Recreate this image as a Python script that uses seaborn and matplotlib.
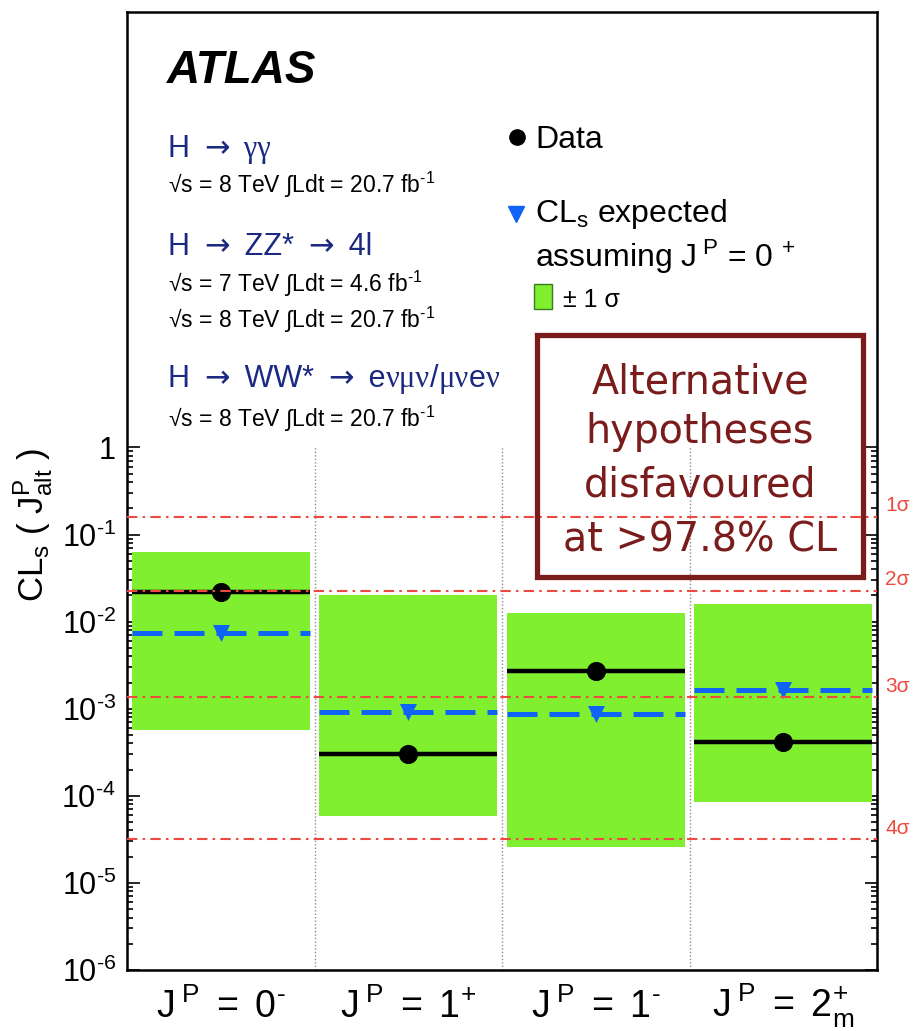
import numpy as np
import pandas as pd
import matplotlib
matplotlib.use("Agg")
import matplotlib.pyplot as plt
import matplotlib.transforms as mtransforms
from matplotlib.patches import Rectangle
import seaborn as sns

# ---- values -------------------------------------------------------------
hypotheses = ["0-", "1+", "1-", "2m+"]
tick_labels = [r"$\mathregular{J^{\;P}\ =\ 0^{\text{-}}}$",
               r"$\mathregular{J^{\;P}\ =\ 1^{+}}$",
               r"$\mathregular{J^{\;P}\ =\ 1^{\text{-}}}$",
               r"$\mathregular{J^{\;P}\ =\ 2^{+}_{m}}$"]
cls_observed = [2.2e-2, 3.0e-4, 2.7e-3, 4.2e-4]
cls_expected = [7.4e-3, 9.2e-4, 8.8e-4, 1.64e-3]
band_low = [5.7e-4, 5.9e-5, 2.6e-5, 8.6e-5]
band_high = [6.3e-2, 2.0e-2, 1.26e-2, 1.61e-2]
sigma_names = ["1σ", "2σ", "3σ", "4σ"]
sigma_pvalues = [0.1587, 0.02275, 0.00135, 3.167e-5]
ytick_values = [1e-6, 1e-5, 1e-4, 1e-3, 1e-2, 1e-1, 1.0]
ytick_labels = [r"$\mathregular{10^{\text{-}6}}$", r"$\mathregular{10^{\text{-}5}}$",
                r"$\mathregular{10^{\text{-}4}}$", r"$\mathregular{10^{\text{-}3}}$",
                r"$\mathregular{10^{\text{-}2}}$", r"$\mathregular{10^{\text{-}1}}$", "1"]

# ---- style --------------------------------------------------------------
sns.set_theme(style="ticks")
plt.rcParams["font.family"] = ["Liberation Sans", "DejaVu Sans"]
plt.rcParams["mathtext.fontset"] = "custom"
plt.rcParams["mathtext.rm"] = "Liberation Sans"
plt.rcParams["mathtext.it"] = "Liberation Sans:italic"
plt.rcParams["mathtext.bf"] = "Liberation Sans:bold"
for key in ["text.color", "axes.labelcolor", "xtick.color", "ytick.color",
            "axes.edgecolor"]:
    plt.rcParams[key] = "black"

GREEN = "#80ef30"
BLUE = "#0f64f5"
RED = "#ee4a40"
NAVY = "#1b2a80"
DARKRED = "#7a1c1c"

W, H = 919, 1031
fig = plt.figure(figsize=(W / 100, H / 100), dpi=100)
ax = fig.add_axes([127 / W, 1 - 970 / H, 750 / W, 958 / H])

df = pd.DataFrame({
    "pos": np.arange(len(hypotheses)) + 0.5,
    "hyp": hypotheses,
    "obs": cls_observed,
    "exp": cls_expected,
    "lo": band_low,
    "hi": band_high,
})

ax.set_yscale("log")
ax.set_xlim(0, 4)
ax.set_ylim(1e-6, 1e5)

half = 0.475
# +-1 sigma bands of the expected CLs
ax.bar(df["pos"], np.array(df["hi"]) - np.array(df["lo"]), bottom=df["lo"],
       width=2 * half, color=GREEN, edgecolor="none", zorder=1)

# expected (dashed blue) and observed (solid black) levels
for _, r in df.iterrows():
    ax.hlines(r["exp"], r["pos"] - half, r["pos"] + half, colors=BLUE,
              linewidth=3.6, linestyles=(0, (6.0, 2.4)), zorder=3)
    ax.hlines(r["obs"], r["pos"] - half, r["pos"] + half, colors="black",
              linewidth=3.2, zorder=3)
sns.scatterplot(data=df, x="pos", y="exp", marker="v", s=150, color=BLUE,
                edgecolor=BLUE, linewidth=0, zorder=4, ax=ax, legend=False)
sns.scatterplot(data=df, x="pos", y="obs", marker="o", s=190, color="black",
                edgecolor="black", linewidth=0, zorder=5, ax=ax, legend=False)

# separators between hypotheses
for xb in [1, 2, 3]:
    ax.vlines(xb, 1e-6, 1.0, colors="#8c8c8c", linewidth=1.0,
              linestyles=(0, (1, 1.5)), zorder=2)

# significance reference levels
trans_lab = mtransforms.blended_transform_factory(ax.transAxes, ax.transData)
for name, p in zip(sigma_names, sigma_pvalues):
    ax.axhline(p, color=RED, linewidth=1.5,
               linestyle=(0, (5, 2.5, 1.2, 2.5)), zorder=6)
    ax.annotate(name, xy=(1.0, p), xycoords=trans_lab, xytext=(6, 8),
                textcoords="offset points", color=RED, fontsize=15,
                ha="left", va="center", annotation_clip=False)

# axes decoration
for s in ax.spines.values():
    s.set_linewidth(1.8)
    s.set_color("black")
ax.set_yticks(ytick_values)
ax.set_yticklabels(ytick_labels, fontsize=22)
minors = [k * 10.0 ** n for n in range(-6, 0) for k in range(2, 10)]
ax.set_yticks(minors, minor=True)
ax.yaxis.set_minor_formatter(matplotlib.ticker.NullFormatter())
ax.tick_params(axis="y", which="both", direction="in", left=True, right=True,
               width=1.2, color="black", pad=8)
ax.tick_params(axis="y", which="major", length=9)
ax.tick_params(axis="y", which="minor", length=4.5)
ax.set_xticks(df["pos"])
ax.set_xticklabels([""] * len(hypotheses))
ax.tick_params(axis="x", which="both", length=0, bottom=True, top=False)
ax.set_xlabel("")
ax.set_ylabel("")

# hypothesis names below the frame, on a common baseline
trans_xlab = mtransforms.blended_transform_factory(ax.transData, fig.transFigure)
for xp, lab in zip(df["pos"], tick_labels):
    ax.text(xp, 1 - 1018 / H, lab, transform=trans_xlab, ha="center",
            va="baseline", fontsize=27)

trans_ylab = mtransforms.blended_transform_factory(ax.transAxes, ax.transData)
ax.text(-0.1253, 1.0, r"CL$_{\mathregular{s}}$ ( J$^{\mathregular{P}}_{\mathregular{alt}}$ )",
        transform=trans_ylab, rotation=90, ha="center", va="top", fontsize=25)


def ftext(px, py, s, **kw):
    return fig.text(px / W, 1 - py / H, s, va="baseline", **kw)


renderer = fig.canvas.get_renderer()


def ptext(px, py, pieces, **kw):
    """Write a line made of pieces in different font families, left to right."""
    x = px
    for s, fam in pieces:
        t = ftext(x, py, s, family=fam, **kw)
        bb = t.get_window_extent(renderer=renderer)
        x += bb.width
    return x


SANS = ["Liberation Sans", "DejaVu Sans"]
ARROW = ["DejaVu Sans"]
GREEK = ["Liberation Serif", "DejaVu Serif"]

# experiment label and channel information
ftext(167, 83, "ATLAS", fontsize=33, fontweight="bold", fontstyle="italic")
lumi8 = r"√s = 8 TeV ∫Ldt = 20.7 fb$^{\mathregular{\text{-}1}}$"
lumi7 = r"√s = 7 TeV ∫Ldt = 4.6 fb$^{\mathregular{\text{-}1}}$"
chan = dict(fontsize=22, color=NAVY)
ptext(168, 157, [("H\u2009 ", SANS), ("→", ARROW), ("\u2009 γγ", GREEK)], **chan)
ftext(168, 193, lumi8, fontsize=16.5)
ptext(168, 255, [("H\u2009 ", SANS), ("→", ARROW), ("\u2009 ZZ*\u2009 ", SANS),
                 ("→", ARROW), ("\u2009 4l", SANS)], **chan)
ftext(168, 292, lumi7, fontsize=16.5)
ftext(168, 328, lumi8, fontsize=16.5)
ptext(168, 387, [("H\u2009 ", SANS), ("→", ARROW), ("\u2009 WW*\u2009 ", SANS),
                 ("→", ARROW), ("\u2009 e", SANS), ("νμν", GREEK), ("/", SANS),
                 ("μν", GREEK), ("e", SANS), ("ν", GREEK)], **chan)
ftext(168, 427, lumi8, fontsize=16.5)

# legend
fig.lines.append(plt.Line2D([517 / W], [1 - 137 / H], marker="o", markersize=11,
                            color="black", transform=fig.transFigure))
ftext(535, 148, "Data", fontsize=23)
fig.lines.append(plt.Line2D([516 / W], [1 - 214 / H], marker="v", markersize=11,
                            color=BLUE, transform=fig.transFigure))
ftext(535, 222, r"CL$_{\mathregular{s}}$ expected", fontsize=23)
ftext(535, 267, r"assuming J$^{\mathregular{\;P}}$ = 0$^{\mathregular{\;+}}$", fontsize=23)
fig.patches.append(Rectangle((534 / W, 1 - 309 / H), 18 / W, 25 / H,
                             facecolor=GREEN, edgecolor="#3a7a20", linewidth=1,
                             transform=fig.transFigure))
ftext(563, 307, "± 1 σ", fontsize=18)

# statement box
fig.patches.append(Rectangle((537 / W, 1 - 577 / H), 326 / W, 242 / H,
                             facecolor="none", edgecolor=DARKRED, linewidth=3.8,
                             transform=fig.transFigure, zorder=10))
box_lines = ["Alternative", "hypotheses", "disfavoured", "at >97.8% CL"]
box_base = [393, 443, 497, 552]
for s, yb in zip(box_lines, box_base):
    fig.text(700 / W, 1 - yb / H, s, ha="center", va="baseline", fontsize=28.5,
             color=DARKRED, family="DejaVu Sans")

fig.savefig("out.png", dpi=100)
